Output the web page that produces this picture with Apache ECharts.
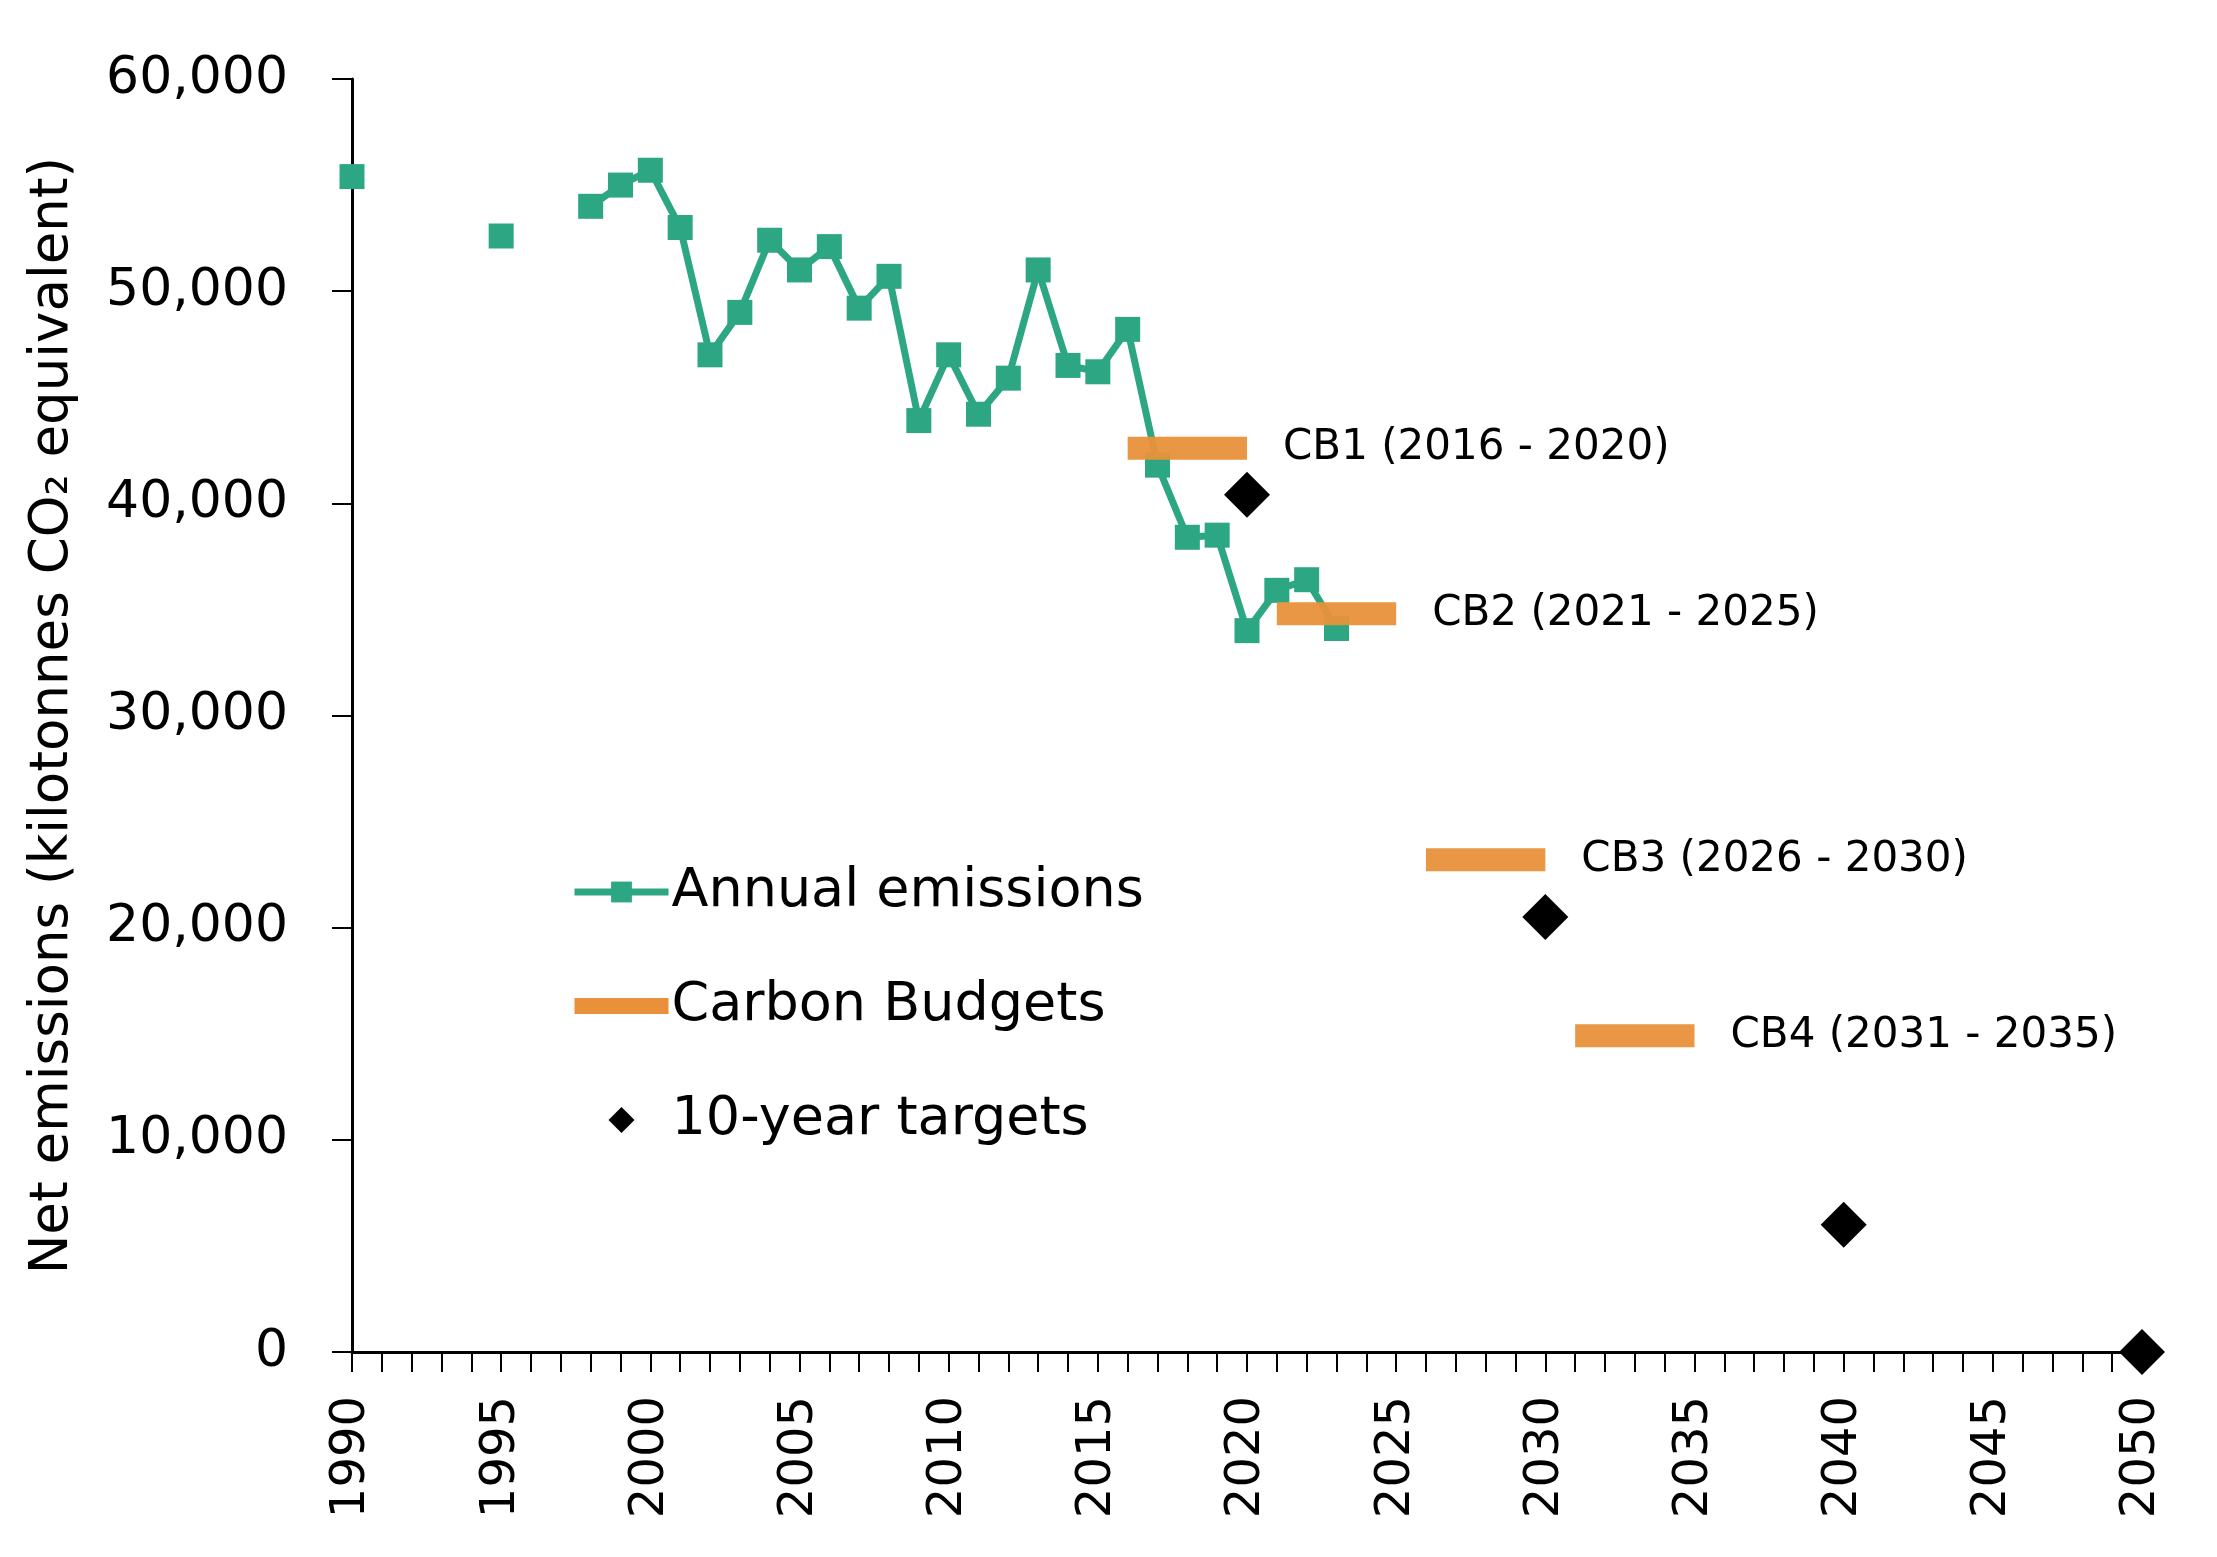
<!DOCTYPE html>
<html>
<head>
<meta charset="utf-8">
<script src="https://cdn.jsdelivr.net/npm/echarts@6/dist/echarts.min.js"></script>
<style>
  html, body { margin: 0; padding: 0; background: #fff; }
  #chart { width: 2217px; height: 1557px; }
</style>
</head>
<body>
<div id="chart"></div>
<script>
const FONT = "DejaVu Sans";

// annual net emissions (kt CO2e); null = no data for that year
const years = [1990, 1991, 1992, 1993, 1994, 1995, 1996, 1997, 1998, 1999, 2000, 2001, 2002, 2003, 2004, 2005, 2006,
  2007, 2008, 2009, 2010, 2011, 2012, 2013, 2014, 2015, 2016, 2017, 2018, 2019, 2020, 2021, 2022, 2023];
const emissions = [55400, null, null, null, null, 52600, null, null, 54000, 55000, 55700, 53000, 47000, 49000, 52400,
  51000, 52100, 49200, 50700, 43900, 47000, 44200, 45900, 51000, 46500, 46200, 48200, 41800, 38400, 38500, 34000,
  35900, 36400, 34100];

// carbon budgets (annual average over each period)
const cbNames = ["CB1 (2016 - 2020)", "CB2 (2021 - 2025)", "CB3 (2026 - 2030)", "CB4 (2031 - 2035)"];
const cbStart = [2016, 2021, 2026, 2031];
const cbEnd = [2020, 2025, 2030, 2035];
const cbValues = [42600, 34800, 23200, 14900];

// 10-year targets
const targetYears = [2020, 2030, 2040, 2050];
const targetValues = [40400, 20500, 6000, 0];

const yTicks = [0, 10000, 20000, 30000, 40000, 50000, 60000];

const chart = echarts.init(document.getElementById("chart"));

const cbSeries = cbNames.map((label, i) => ({
  name: "Carbon Budgets",
  type: "line",
  z: 4,
  data: [[cbStart[i], cbValues[i]], [cbEnd[i], cbValues[i]]],
  symbol: "rect",
  showSymbol: false,
  itemStyle: { color: "#e8913a" },
  lineStyle: { color: "#e8913a", width: 23, cap: "butt", opacity: 0.95 },
  endLabel: {
    show: true,
    formatter: label,
    distance: 36,
    color: "#000",
    fontFamily: FONT,
    fontSize: 42,
  },
}));

chart.setOption({
  animation: false,
  textStyle: { fontFamily: FONT },
  grid: { left: 352, right: 75, top: 79, bottom: 205 },
  legend: {
    orient: "vertical",
    left: 566,
    top: 860,
    itemWidth: 94,
    itemHeight: 26,
    itemGap: 60,
    symbolKeepAspect: true,
    textStyle: { fontFamily: FONT, fontSize: 54, color: "#000", padding: [0, 0, 0, -2] },
    data: [
      {
        name: "Annual emissions",
        lineStyle: { width: 7, color: "#2ca683" },
        itemStyle: { color: "#2ca683" },
      },
      {
        name: "Carbon Budgets",
        icon: "path://M0,0 L94,0 L94,16 L0,16 Z",
        itemStyle: { color: "#e8913a" },
      },
      {
        name: "10-year targets",
        icon: "path://M10,0 L20,10 L10,20 L0,10 Z",
        itemStyle: { color: "#000", opacity: 1 },
      },
    ],
  },
  xAxis: {
    type: "value",
    min: 1990,
    max: 2050,
    interval: 5,
    axisLine: { show: true, lineStyle: { color: "#000", width: 3 } },
    axisTick: { show: true, length: 20, lineStyle: { color: "#000", width: 2 } },
    minorTick: { show: true, splitNumber: 5, length: 20, lineStyle: { color: "#000", width: 2 } },
    splitLine: { show: false },
    axisLabel: {
      rotate: 90,
      margin: 44,
      color: "#000",
      fontFamily: FONT,
      fontSize: 48,
      formatter: (v) => String(v),
    },
  },
  yAxis: {
    type: "value",
    min: yTicks[0],
    max: yTicks[yTicks.length - 1],
    interval: 10000,
    name: "Net emissions (kilotonnes CO₂ equivalent)",
    nameLocation: "middle",
    nameGap: 272,
    nameTextStyle: { color: "#000", fontFamily: FONT, fontSize: 53 },
    axisLine: { show: true, lineStyle: { color: "#000", width: 3 } },
    axisTick: { show: true, length: 20, lineStyle: { color: "#000", width: 2 } },
    splitLine: { show: false },
    axisLabel: {
      margin: 64,
      color: "#000",
      fontFamily: FONT,
      fontSize: 52,
      formatter: (v) => v.toLocaleString("en-US"),
    },
  },
  series: [
    {
      name: "Annual emissions",
      type: "line",
      z: 3,
      data: years.map((y, i) => [y, emissions[i] === null ? "-" : emissions[i]]),
      connectNulls: false,
      symbol: "rect",
      symbolSize: 25,
      showAllSymbol: true,
      itemStyle: { color: "#2ca683" },
      lineStyle: { color: "#2ca683", width: 7 },
    },
    ...cbSeries,
    {
      name: "10-year targets",
      type: "scatter",
      z: 5,
      data: targetYears.map((y, i) => [y, targetValues[i]]),
      symbol: "diamond",
      symbolSize: 46,
      itemStyle: { color: "#000", opacity: 1 },
      clip: false,
    },
  ],
});

window.addEventListener("resize", () => chart.resize());
</script>
</body>
</html>
